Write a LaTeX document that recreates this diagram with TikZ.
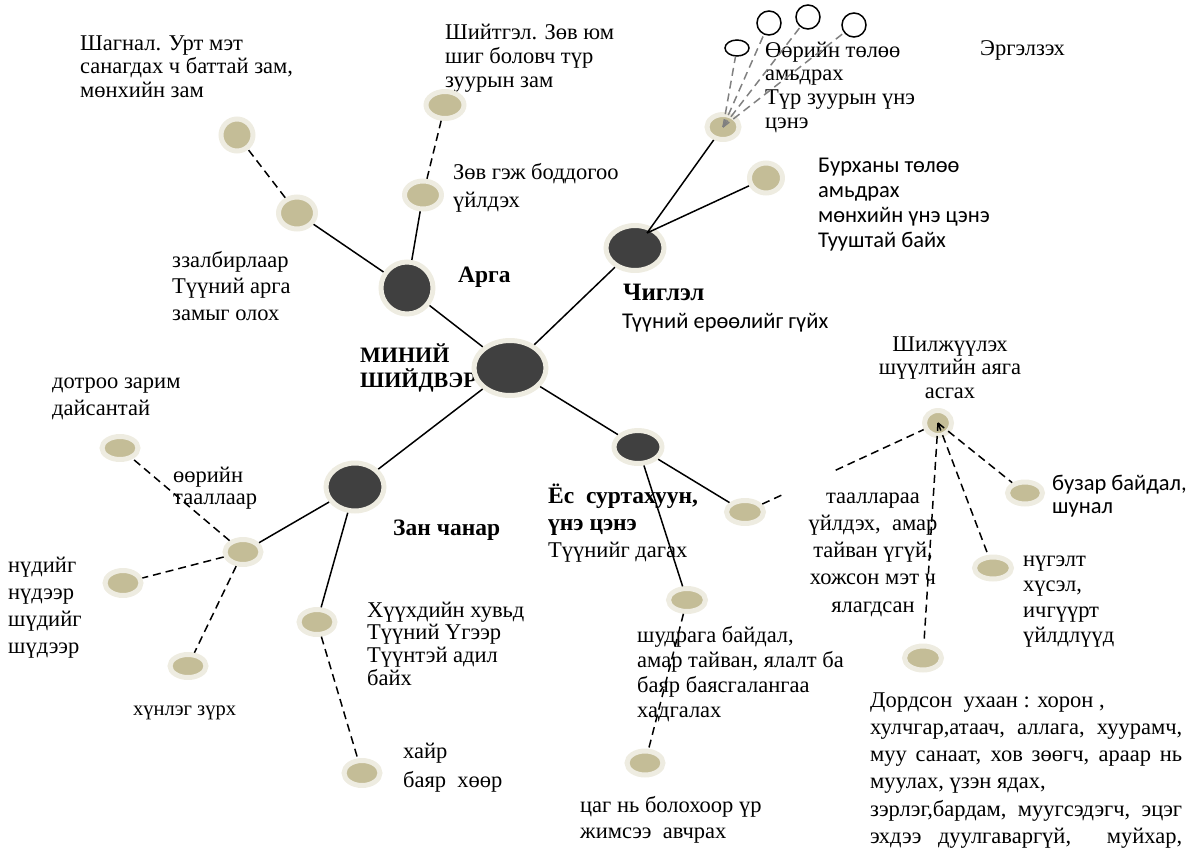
\documentclass[tikz,border=0pt]{standalone}
\usepackage{fontspec}
\setmainfont{Liberation Serif}
\newfontfamily\calibri{Carlito}
\usetikzlibrary{shapes.geometric,calc}
\definecolor{ring}{HTML}{EEECE1}
\definecolor{sand}{HTML}{C4BD97}
\definecolor{dark}{HTML}{404040}
\newcommand{\lft}[1]{\vtop{\lineskiplimit=-100pt\let\\\cr\halign{##\hfil\cr#1\crcr}}}
\newcommand{\ctr}[1]{\vtop{\lineskiplimit=-100pt\let\\\cr\halign{\hfil##\hfil\cr#1\crcr}}}
\newcommand{\wide}[1]{\hbox to 312pt{#1}}
\begin{document}
\begin{tikzpicture}[x=1pt, y=-1pt,
    big/.style={ellipse, draw=ring, line width=5pt, fill=dark, inner sep=0pt},
    dot/.style={ellipse, draw=ring, line width=5pt, fill=sand, inner sep=0pt},
    bubble/.style={ellipse, draw, line width=1.5pt, inner sep=0pt, minimum size=24pt},
    lbl/.style={inner sep=0pt, anchor=base west, font=\fontsize{22.5}{24}\selectfont},
    hd/.style={lbl, font=\fontsize{23.5}{27}\selectfont\bfseries},
    cal/.style={lbl, font=\fontsize{22.5}{25}\selectfont\calibri},
    ln/.style={line width=1.5pt},
    dsh/.style={line width=1.5pt, dash pattern=on 8pt off 5pt},
    gdsh/.style={line width=1.5pt, gray, dash pattern=on 8pt off 5pt}]
\useasboundingbox (0,0) rectangle (1203,849);

% texts
\node[lbl, font=\fontsize{22.5}{23.5}\selectfont] (tshagnal) at (80,50) {\lft{Шагнал. Урт мэт\\санагдах ч баттай зам,\\мөнхийн зам}};
\node[lbl] (tshiitgel) at (445,39) {\lft{Шийтгэл. Зөв юм\\шиг боловч түр\\зуурын зам}};
\node[lbl, font=\fontsize{22.5}{28}\selectfont] (tzov) at (453,179) {\lft{Зөв гэж боддогоо\\үйлдэх}};
\node[lbl, font=\fontsize{22.5}{26.5}\selectfont] (tzalbir) at (172,267) {\lft{ззалбирлаар\\Түүний арга\\замыг олох}};
\node[hd] (targa) at (458,282) {Арга};
\node[hd, font=\fontsize{22}{25}\selectfont\bfseries] (tmain) at (360,362) {\lft{МИНИЙ\\ШИЙДВЭР}};
\node[hd, font=\fontsize{25}{27}\selectfont\bfseries] (tchig) at (623,300) {Чиглэл};
\node[cal] (terool) at (622,328) {Түүний ерөөлийг гүйх};
\node[lbl, font=\fontsize{22.5}{23.7}\selectfont] (toorin) at (765,57) {\lft{Өөрийн төлөө\\амьдрах\\Түр зуурын үнэ\\цэнэ}};
\node[lbl] (tergel) at (980,55) {Эргэлзэх};
\node[cal, font=\fontsize{22.5}{25.3}\selectfont\calibri] (tburhan) at (818,172) {\lft{Бурханы төлөө\\амьдрах\\мөнхийн үнэ цэнэ\\Тууштай байх}};
\node[lbl, anchor=base, font=\fontsize{22.5}{23.5}\selectfont] (tshilj) at (950,351) {\ctr{Шилжүүлэх\\шүүлтийн аяга\\асгах}};
\node[lbl, anchor=base, font=\fontsize{22.5}{27.3}\selectfont] (ttaalal) at (873,503) {\ctr{тааллараа\\үйлдэх,~ амар\\тайван үгүй,\\хожсон мэт ч\\ялагдсан}};
\node[cal, font=\fontsize{22.5}{23.5}\selectfont\calibri] (tbuzar) at (1052,490) {\lft{бузар байдал,\\шунал}};
\node[lbl, font=\fontsize{22.5}{25.5}\selectfont] (tnugel) at (1023,566) {\lft{нүгэлт\\хүсэл,\\ичгүүрт\\үйлдлүүд}};
\node[lbl, font=\fontsize{22.5}{27.3}\selectfont] (tdord) at (870,707) {\lft{Дордсон~ ухаан : хорон ,\\\wide{хулчгар,атаач, аллага, хуурамч,}\\\wide{муу санаат, хов зөөгч, араар нь}\\муулах, үзэн ядах,\\\wide{зэрлэг,бардам, муугсэдэгч, эцэг}\\\wide{эхдээ дуулгаваргүй,~ муйхар,}}};
\node[lbl, font=\fontsize{22.5}{25}\selectfont] (tshudraga) at (637,642) {\lft{шудрага байдал,\\амар тайван, ялалт ба\\баяр баясгалангаа\\хадгалах}};
\node[lbl, font=\fontsize{22.5}{26}\selectfont] (tcag) at (580,812) {\lft{цаг нь болохоор үр\\жимсээ~ авчрах}};
\node[lbl, font=\fontsize{22.5}{29}\selectfont] (thair) at (403,758) {\lft{хайр\\баяр~ хөөр}};
\node[lbl, font=\fontsize{22.5}{22.7}\selectfont] (thuuhed) at (367,617) {\lft{Хүүхдийн хувьд\\Түүний Үгээр\\Түүнтэй адил\\байх}};
\node[lbl, font=\fontsize{20.5}{24}\selectfont] (thunleg) at (133,715) {хүнлэг зүрх};
\node[lbl, font=\fontsize{22.5}{27}\selectfont] (tnud) at (8,572) {\lft{нүдийг\\нүдээр\\шүдийг\\шүдээр}};
\node[lbl, font=\fontsize{22.5}{22}\selectfont] (tooriin) at (173,482) {\lft{өөрийн\\тааллаар}};
\node[lbl, font=\fontsize{22.5}{27}\selectfont] (tdotroo) at (52,388) {\lft{дотроо зарим\\дайсантай}};
\node[hd] (tzan) at (393,535) {Зан чанар};
\node[hd] (tyos) at (548,503) {\lft{Ёс~ суртахуун,\\үнэ цэнэ}};
\node[lbl] (tdagah) at (548,557) {Түүнийг дагах};

% nodes
\node[big, minimum width=72pt, minimum height=55pt] (main) at (510,368) {};
\node[big, minimum width=52pt, minimum height=52pt] (arga) at (407,288) {};
\node[big, minimum width=58pt, minimum height=45pt] (chig) at (635,248) {};
\node[big, minimum width=58pt, minimum height=48pt] (zan) at (355,487) {};
\node[big, minimum width=48pt, minimum height=33pt] (yos) at (638,447) {};
\foreach \n/\x/\y/\w/\h in {arga1/297/213/37/32, arga2/237/135/32/32, arga3/423/195/37/28,
    arga4/445/105/38/27, chig1/723/127/32/25, chig2/766/178/33/30, yos1/745/512/37/23,
    yos2/687/600/37/23, yos3/645/763/36/24, shilj/938/423/27/25, buzar/1025/493/35/22,
    nugel/993/568/37/22, dord/923/658/37/24, zan1/243/552/36/25, zan2/120/448/36/23,
    zan3/123/583/36/25, zan4/188/666/36/23, zan5/317/622/36/25, zan6/362/773/36/25}
{
    \node[dot, minimum width=\w pt, minimum height=\h pt] (\n) at (\x,\y) {};
}
\node[bubble, minimum height=16pt] (bub1) at (737,48) {};
\node[bubble] (bub2) at (769,23) {};
\node[bubble] (bub3) at (808,17) {};
\node[bubble] (bub4) at (854,25) {};
\coordinate (chighub) at ($(chig.center)+(12,-15)$);
\coordinate (gapa) at ($(yos1)!0.19!(shilj)$);
\coordinate (gapb) at ($(yos1)!0.47!(shilj)$);

% connectors
\draw[ln] (main)--(arga) (arga)--(arga1) (arga)--(arga3);
\draw[ln] (main)--(chig) (chighub)--(chig1) (chighub)--(chig2);
\draw[ln] (main)--(yos) (yos)--(yos1) (yos)--(yos2);
\draw[ln] (main)--(zan) (zan)--(zan1) (zan)--(zan5);
\draw[dsh] (arga1)--(arga2) (arga3)--(arga4) (yos2)--(yos3) (zan5)--(zan6);
\draw[dsh] (zan1)--(zan2) (zan1)--(zan3) (zan1)--(zan4);
\draw[dsh] (yos1)--(gapa) (gapb)--(shilj);
\draw[dsh] (shilj.center)--(buzar) (shilj.center)--(nugel) (shilj.center)--(dord);
\foreach \b in {bub1,bub2,bub3,bub4}
{
    \draw[gdsh] (chig1.center)--(\b);
}

\end{tikzpicture}
\end{document}
